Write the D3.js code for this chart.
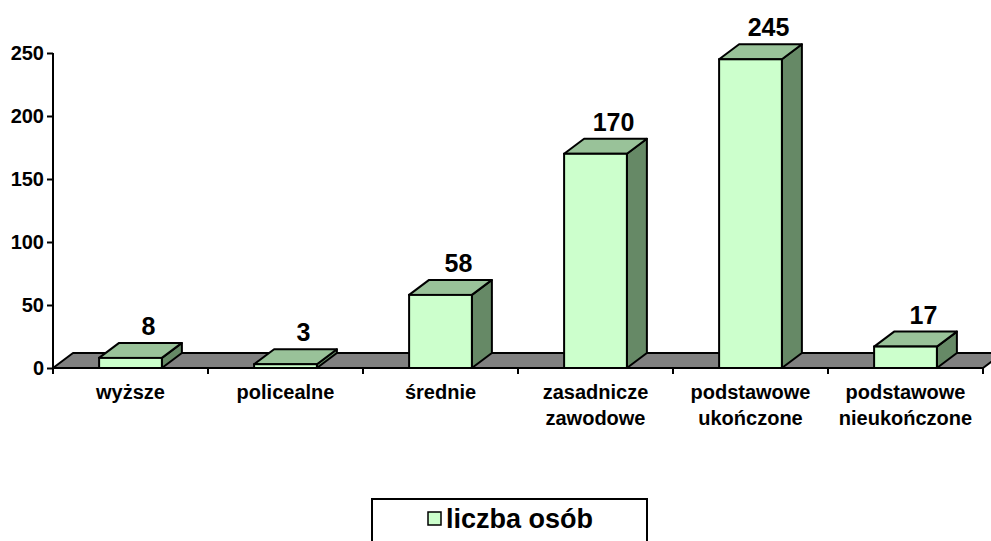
<!DOCTYPE html>
<html>
<head>
<meta charset="utf-8">
<script src="https://cdn.jsdelivr.net/npm/d3@7"></script>
<style>
  html, body { margin: 0; padding: 0; background: #fff; }
  svg { display: block; font-family: "Liberation Sans", Arial, sans-serif; font-weight: bold; }
</style>
</head>
<body>
<svg id="chart" width="991" height="541"></svg>
<script>
const categories = ["wyższe", "policealne", "średnie", "zasadnicze\nzawodowe", "podstawowe\nukończone", "podstawowe\nnieukończone"];
const values = [8, 3, 58, 170, 245, 17];
const yTicks = [0, 50, 100, 150, 200, 250];
const seriesName = "liczba osób";

const svg = d3.select("#chart");
const x = d3.scaleBand().domain(categories).range([53, 983]).paddingInner(0).paddingOuter(0);
const y = d3.scaleLinear().domain([0, 250]).range([368, 53]);
const dx = 20, dy = -15;
const barW = x.bandwidth() * 0.405;

const colFront = "#CCFFCC", colTop = "#99C299", colSide = "#668966", colFloor = "#808080";

// floor
const x0 = x.range()[0], x1 = x.range()[1], yb = y(0);
svg.append("path")
  .attr("d", `M${x0},${yb} L${x0+dx},${yb+dy} L${x1+dx},${yb+dy} L${x1},${yb} Z`)
  .attr("fill", colFloor).attr("stroke", "#000").attr("stroke-width", 2).attr("stroke-linejoin", "round");

// bars
const bars = svg.append("g").selectAll("g").data(values.map((v, i) => ({ v, c: categories[i] }))).join("g");
bars.each(function(d) {
  const g = d3.select(this);
  const cx = x(d.c) + x.bandwidth() / 2;
  const l = cx - barW / 2, r = cx + barW / 2, t = y(d.v), b = y(0);
  g.append("path").attr("d", `M${r},${b} L${r+dx},${b+dy} L${r+dx},${t+dy} L${r},${t} Z`)
    .attr("fill", colSide).attr("stroke", "#000").attr("stroke-width", 2).attr("stroke-linejoin", "round");
  g.append("path").attr("d", `M${l},${t} L${l+dx},${t+dy} L${r+dx},${t+dy} L${r},${t} Z`)
    .attr("fill", colTop).attr("stroke", "#000").attr("stroke-width", 2).attr("stroke-linejoin", "round");
  g.append("rect").attr("x", l).attr("y", t).attr("width", barW).attr("height", b - t)
    .attr("fill", colFront).attr("stroke", "#000").attr("stroke-width", 2);
  g.append("text").attr("x", cx + 18).attr("y", t + dy - 8)
    .attr("text-anchor", "middle").attr("font-size", 25).attr("fill", "#000").text(d.v);
});

// y axis
const yAxis = svg.append("g").attr("transform", `translate(${x0},0)`)
  .call(d3.axisLeft(y).tickValues(yTicks).tickSize(6).tickPadding(3).tickFormat(d3.format("d")));
yAxis.select(".domain").attr("stroke", "#000").attr("stroke-width", 2).attr("d", `M0,${y(250)}V${y(0)+5}`);
yAxis.selectAll(".tick line").attr("stroke", "#000").attr("stroke-width", 2);
yAxis.selectAll("text").attr("font-size", 20).attr("font-family", "Liberation Sans, Arial, sans-serif")
  .attr("font-weight", "bold").attr("fill", "#000");

// x axis baseline + ticks
const xAxisG = svg.append("g");
xAxisG.append("line").attr("x1", x0).attr("x2", x1).attr("y1", yb).attr("y2", yb).attr("stroke", "#000").attr("stroke-width", 2);
const bounds = categories.map(c => x(c)).concat([x1]);
xAxisG.selectAll(".tk").data(bounds).join("line").attr("class", "tk")
  .attr("x1", d => d).attr("x2", d => d).attr("y1", yb).attr("y2", yb + 6)
  .attr("stroke", "#000").attr("stroke-width", 2);
const labels = xAxisG.selectAll(".lbl").data(categories).join("text").attr("class", "lbl")
  .attr("text-anchor", "middle").attr("font-size", 20).attr("fill", "#000");
labels.each(function(c) {
  const t = d3.select(this);
  c.split("\n").forEach((line, i) => {
    t.append("tspan").attr("x", x(c) + x.bandwidth() / 2).attr("y", 399 + i * 26).text(line);
  });
});

// legend
const lg = svg.append("g");
lg.append("rect").attr("x", 372).attr("y", 499).attr("width", 275).attr("height", 60)
  .attr("fill", "#fff").attr("stroke", "#000").attr("stroke-width", 2);
lg.append("rect").attr("x", 428).attr("y", 512).attr("width", 13).attr("height", 13)
  .attr("fill", colFront).attr("stroke", "#000").attr("stroke-width", 1.5);
lg.append("text").attr("x", 446).attr("y", 528).attr("font-size", 27).attr("fill", "#000").text(seriesName);
</script>
</body>
</html>
